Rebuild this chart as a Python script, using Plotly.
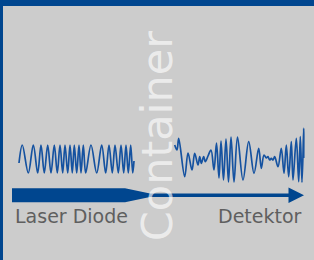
import plotly.graph_objects as go

# ---- data (pixel coordinates of wave extrema) ----
wave_in_x = [19, 22.3, 28.3, 33.3, 37.7, 41, 44.3, 47.7, 51, 54.3, 57.3, 60, 62.7, 65,
             67.7, 70, 72.3, 74.3, 76.7, 79, 81, 83.3, 85.7, 91, 96.7, 101.7, 105.7,
             109, 112.3, 115, 118.3, 121, 123.7, 126, 128.3, 130.7, 132.7, 134]
wave_in_y = [163] + [145 if i % 2 == 0 else 173 for i in range(36)] + [161]

wave_out_x = [174.7, 177, 178.7, 184.7, 188, 192, 194.7, 198, 199.7, 201.3, 203.7, 205.3,
              208, 211, 214, 216.5, 219, 221, 223.5, 226, 228.5, 231, 234, 237.5, 243,
              248.7, 254, 258.7, 261.3, 264, 266.3, 268, 269.7, 271.3, 273, 274.7, 278,
              281.3, 284, 286.3, 288.7, 291.3, 293, 296.3, 298.7, 300.3, 302, 303.7, 303.7]
wave_out_y = [145, 150, 138.3, 176.7, 153, 170, 153.3, 165, 156.7, 163.3, 156.7, 161.7,
              156, 150, 170, 143, 178, 141, 180, 139, 182, 137, 182, 137, 180,
              141.7, 173.3, 148.3, 168.3, 155, 158, 156.7, 160, 158.3, 160, 156.7, 166.7,
              148.3, 173.3, 145, 176.7, 141.7, 180, 138.3, 181.7, 136.7, 182.3, 128.3, 158]

labels = {"source": "Laser Diode", "detector": "Detektor", "medium": "Container"}

W, H = 314, 260
BLUE = "#00468f"
WAVE = "#1552a0"
BG = "#cccccc"

fig = go.Figure()
for xs, ys in ((wave_in_x, wave_in_y), (wave_out_x, wave_out_y)):
    fig.add_trace(go.Scatter(x=xs, y=ys, mode="lines",
                             line=dict(color=WAVE, width=1.7, shape="spline", smoothing=1.0),
                             hoverinfo="skip", showlegend=False))

# beam arrow geometry
cy = 195.3
x0, xt0, xt1, xh, xtip = 12, 125, 150, 288.5, 304
hw_thick, hw_thin, hw_head = 7, 1.8, 7.7
path = (f"M {x0} {cy-hw_thick} L {xt0} {cy-hw_thick} L {xt1} {cy-hw_thin} "
        f"L {xh} {cy-hw_thin} L {xh} {cy-hw_head} L {xtip} {cy} L {xh} {cy+hw_head} "
        f"L {xh} {cy+hw_thin} L {xt1} {cy+hw_thin} L {xt0} {cy+hw_thick} L {x0} {cy+hw_thick} Z")

shapes = [
    dict(type="path", path=path, fillcolor=BLUE, line=dict(width=0), layer="above"),
    dict(type="rect", xref="paper", yref="paper", x0=0, x1=1, y0=1 - 6 / H, y1=1,
         fillcolor=BLUE, line=dict(width=0), layer="above"),
    dict(type="rect", xref="paper", yref="paper", x0=0, x1=3 / W, y0=0, y1=1,
         fillcolor=BLUE, line=dict(width=0), layer="above"),
]

annotations = [
    dict(x=13, y=224, text=labels["source"], showarrow=False, xanchor="left", yanchor="bottom",
         font=dict(family="DejaVu Sans", size=19, color="#5f5f5f"), yshift=-5),
    dict(x=304, y=224, text=labels["detector"], showarrow=False, xanchor="right", yanchor="bottom",
         font=dict(family="DejaVu Sans", size=19, color="#5f5f5f"), yshift=-5),
    dict(x=156.5, y=136.7, text=labels["medium"], showarrow=False, textangle=-90,
         xanchor="center", yanchor="middle",
         font=dict(family="DejaVu Sans", size=43, color="rgba(255,255,255,0.65)")),
]

fig.update_layout(
    width=W, height=H, margin=dict(l=0, r=0, t=0, b=0),
    paper_bgcolor=BG, plot_bgcolor=BG,
    xaxis=dict(range=[0, W], visible=False, fixedrange=True),
    yaxis=dict(range=[H, 0], visible=False, fixedrange=True),
    shapes=shapes, annotations=annotations,
)

fig.write_html("out.html", config={"displayModeBar": False},
               post_script="document.body.style.margin='0';document.body.style.overflow='hidden';")
